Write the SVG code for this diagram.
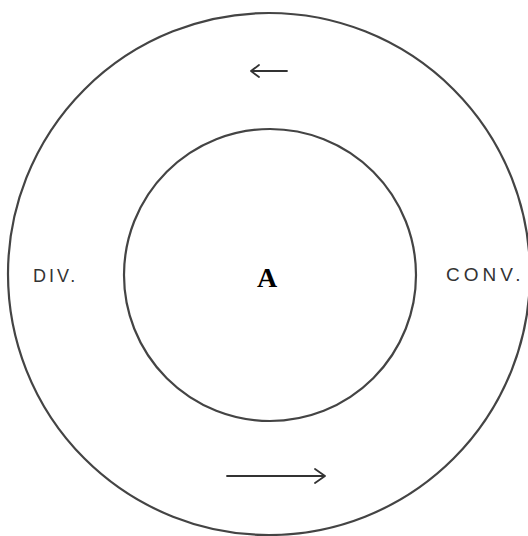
<svg xmlns="http://www.w3.org/2000/svg" width="528" height="536" viewBox="0 0 528 536">
<style>
.c{fill:none;stroke:#444;stroke-width:2.2}
.a{fill:none;stroke:#333;stroke-width:1.8;stroke-linecap:round;stroke-linejoin:round}
.l{font-family:"Liberation Sans",Arial,sans-serif;font-size:18px;fill:#333;letter-spacing:3px}
</style>
<rect width="528" height="536" fill="#fff"/>
<g id="outer"><circle class="c" cx="269" cy="274" r="261"/></g>
<g id="inner"><circle class="c" cx="270" cy="275" r="146"/></g>
<g id="connectors">
<path class="a" d="M287 71H251M259 65L251 71L259 77"/>
<path class="a" d="M227 476H325M315 469L325 476L315 483"/>
</g>
<g id="labels">
<text class="l" x="33" y="282">DIV.</text>
<text class="l" x="446" y="281" style="font-size:19px;letter-spacing:4px">CONV.</text>
<text x="257" y="287" font-family="Liberation Serif,serif" font-weight="bold" font-size="28" fill="#000">A</text>
</g>
</svg>
